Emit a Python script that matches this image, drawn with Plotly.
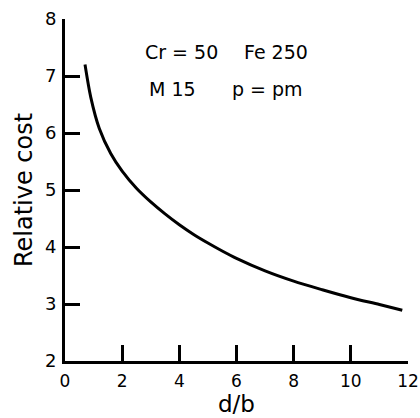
import plotly.graph_objects as go

# Data
d_over_b = [0.7, 0.9, 1.2, 1.6, 2.0, 2.5, 3.0, 3.5, 4.0, 4.5, 5.0, 5.5, 6.0, 7.0, 8.0, 9.0, 10.0, 11.0, 11.8]
relative_cost = [7.20, 6.63, 6.08, 5.64, 5.33, 5.03, 4.79, 4.58, 4.39, 4.22, 4.07, 3.93, 3.80,
                 3.58, 3.40, 3.25, 3.11, 2.99, 2.89]

x_ticks = [0, 2, 4, 6, 8, 10, 12]
y_ticks = [2, 3, 4, 5, 6, 7, 8]

labels = ["Cr = 50", "Fe 250", "M 15", "p = pm"]
label_x = [2.72, 6.2, 2.86, 5.76]
label_y = [7.42, 7.42, 6.77, 6.77]

FONT = "DejaVu Sans"

fig = go.Figure()
fig.add_trace(go.Scatter(
    x=d_over_b, y=relative_cost, mode="lines",
    line=dict(color="black", width=3, shape="spline", smoothing=0.8),
    showlegend=False, hoverinfo="skip",
))

for t, xv, yv in zip(labels, label_x, label_y):
    fig.add_annotation(x=xv, y=yv, text=t, showarrow=False, xanchor="left", yanchor="middle",
                       font=dict(family=FONT, size=19, color="black"))

fig.update_layout(
    width=420, height=418,
    margin=dict(l=65, r=12, t=19, b=57),
    paper_bgcolor="white", plot_bgcolor="white",
    font=dict(family=FONT, size=19, color="black"),
)
fig.update_xaxes(
    range=[0, 12], tickvals=x_ticks, ticktext=[str(v) for v in x_ticks],
    showline=True, linecolor="black", linewidth=3, mirror=False,
    ticks="inside", ticklen=16, tickwidth=2.5, tickcolor="black",
    showgrid=False, zeroline=False, ticklabelstandoff=3, automargin=False,
    ticklabeloverflow="allow",
    tickfont=dict(family=FONT, size=17, color="black"),
    title=dict(text="d/b", font=dict(family=FONT, size=23, color="black"), standoff=5),
)
fig.update_yaxes(
    range=[2, 8], tickvals=y_ticks, ticktext=[str(v) for v in y_ticks],
    showline=True, linecolor="black", linewidth=3, mirror=False,
    ticks="inside", ticklen=15, tickwidth=2.5, tickcolor="black",
    showgrid=False, zeroline=False, ticklabelstandoff=2, automargin=False,
    ticklabeloverflow="allow",
    tickfont=dict(family=FONT, size=18, color="black"),
    title=dict(text="Relative cost", font=dict(family=FONT, size=24, color="black"), standoff=6),
)

fig.write_html("out.html")
